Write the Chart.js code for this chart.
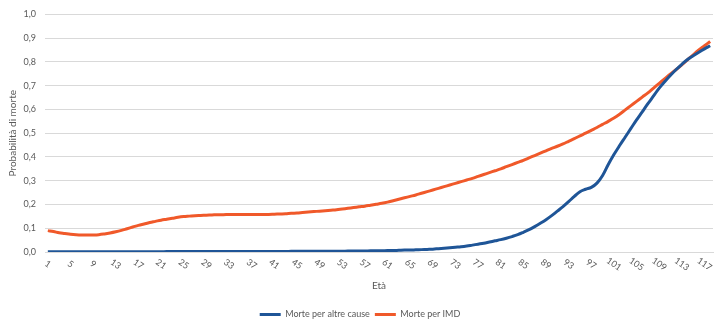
<!DOCTYPE html>
<html>
<head>
<meta charset="utf-8">
<script src="https://cdn.jsdelivr.net/npm/chart.js@4.4.1/dist/chart.umd.min.js"></script>
<style>
  html, body { margin: 0; padding: 0; background: #fff; }
  #wrap { width: 725px; height: 322px; }
</style>
</head>
<body>
<div id="wrap"><canvas id="chart"></canvas></div>
<script>
// Età 1..118
const ages = [];
for (let a = 1; a <= 118; a++) ages.push(String(a));

// Morte per altre cause (blue)
const altreCause = [
  0.001, 0.001, 0.001, 0.001, 0.001, 0.001, 0.001, 0.001, 0.001, 0.001,
  0.001, 0.001, 0.001, 0.001, 0.001, 0.001, 0.001, 0.001, 0.001, 0.001,
  0.001, 0.002, 0.002, 0.002, 0.002, 0.002, 0.002, 0.002, 0.002, 0.002,
  0.002, 0.002, 0.002, 0.002, 0.002, 0.002, 0.002, 0.002, 0.002, 0.002,
  0.002, 0.002, 0.002, 0.003, 0.003, 0.003, 0.003, 0.003, 0.003, 0.003,
  0.003, 0.003, 0.003, 0.004, 0.004, 0.004, 0.004, 0.005, 0.005, 0.005,
  0.006, 0.006, 0.007, 0.008, 0.008, 0.009, 0.010, 0.011, 0.012, 0.014,
  0.016, 0.018, 0.020, 0.022, 0.025, 0.029, 0.033, 0.037, 0.042, 0.047,
  0.052, 0.058, 0.065, 0.073, 0.083, 0.094, 0.107, 0.121, 0.136, 0.153,
  0.172, 0.191, 0.212, 0.234, 0.254, 0.264, 0.272, 0.290, 0.322, 0.368,
  0.410, 0.448, 0.484, 0.520, 0.556, 0.590, 0.624, 0.657, 0.690, 0.718,
  0.744, 0.768, 0.790, 0.810, 0.826, 0.841, 0.855, 0.868
];

// Morte per IMD (orange)
const imd = [
  0.090, 0.086, 0.081, 0.078, 0.075, 0.073, 0.072, 0.072, 0.072, 0.073,
  0.076, 0.080, 0.085, 0.091, 0.098, 0.105, 0.112, 0.118, 0.124, 0.129,
  0.134, 0.138, 0.142, 0.146, 0.149, 0.151, 0.153, 0.154, 0.155, 0.156,
  0.157, 0.157, 0.158, 0.158, 0.158, 0.158, 0.158, 0.158, 0.158, 0.158,
  0.159, 0.160, 0.161, 0.163, 0.164, 0.166, 0.168, 0.170, 0.172, 0.174,
  0.176, 0.178, 0.181, 0.184, 0.187, 0.190, 0.193, 0.197, 0.201, 0.205,
  0.210, 0.216, 0.222, 0.228, 0.234, 0.240, 0.247, 0.254, 0.261, 0.268,
  0.275, 0.282, 0.289, 0.296, 0.303, 0.310, 0.318, 0.326, 0.334, 0.342,
  0.350, 0.359, 0.368, 0.377, 0.386, 0.396, 0.406, 0.416, 0.426, 0.436,
  0.445, 0.455, 0.466, 0.477, 0.489, 0.500, 0.512, 0.524, 0.537, 0.550,
  0.564, 0.580, 0.598, 0.616, 0.634, 0.652, 0.670, 0.690, 0.710, 0.730,
  0.750, 0.768, 0.788, 0.809, 0.830, 0.850, 0.868, 0.886
];

// y tick labels 0,0 .. 1,0
const yTicks = ['0,0', '0,1', '0,2', '0,3', '0,4', '0,5', '0,6', '0,7', '0,8', '0,9', '1,0'];

const textColor = '#595959';
const gridColor = '#d9d9d9';
const fontFamily = 'Lato, "Liberation Sans", sans-serif';

// draws the slanted age labels every 4 years under the x axis
const slantedLabels = {
  id: 'slantedLabels',
  afterDraw(chart) {
    const xScale = chart.scales.x;
    const ctx = chart.ctx;
    ctx.save();
    ctx.font = '9px ' + fontFamily;
    ctx.fillStyle = textColor;
    ctx.textAlign = 'center';
    ctx.textBaseline = 'middle';
    ages.forEach((label, i) => {
      if (i % 4 !== 0) return;
      const x = xScale.getPixelForValue(i);
      ctx.save();
      ctx.translate(x, xScale.top + 12);
      ctx.rotate(35 * Math.PI / 180);
      ctx.fillText(label, 0, 0);
      ctx.restore();
    });
    ctx.restore();
  }
};

Chart.defaults.font.family = fontFamily;
Chart.defaults.color = textColor;

new Chart(document.getElementById('chart').getContext('2d'), {
  type: 'line',
  data: {
    labels: ages,
    datasets: [
      {
        label: 'Morte per altre cause',
        data: altreCause,
        borderColor: '#1f5597',
        backgroundColor: '#1f5597',
        borderWidth: 3,
        pointRadius: 0,
        tension: 0.4
      },
      {
        label: 'Morte per IMD',
        data: imd,
        borderColor: '#f0592a',
        backgroundColor: '#f0592a',
        borderWidth: 3,
        pointRadius: 0,
        tension: 0.4
      }
    ]
  },
  options: {
    responsive: true,
    maintainAspectRatio: false,
    animation: false,
    layout: { padding: { top: 6, right: 12, left: 7, bottom: -7 } },
    scales: {
      x: {
        offset: true,
        grid: { display: false, drawTicks: false },
        border: { color: gridColor, width: 1 },
        ticks: { display: false },
        title: {
          display: true,
          text: 'Età',
          font: { size: 10 },
          color: textColor,
          padding: { top: 0, bottom: 13 }
        },
        afterFit(scale) { scale.height = 53; }
      },
      y: {
        min: 0,
        max: 1,
        grid: { color: gridColor, drawTicks: false },
        border: { display: false },
        ticks: {
          stepSize: 0.1,
          padding: 9,
          font: { size: 9 },
          color: textColor,
          callback: (v, i) => yTicks[i]
        },
        title: {
          display: true,
          text: 'Probabilità di morte',
          font: { size: 10 },
          color: textColor,
          padding: 0
        },
        afterFit(scale) { scale.width = 38; }
      }
    },
    plugins: {
      legend: {
        position: 'bottom',
        labels: {
          usePointStyle: true,
          pointStyle: 'line',
          pointStyleWidth: 21,
          boxHeight: 3,
          font: { size: 9 },
          color: textColor,
          padding: 5
        }
      },
      tooltip: { enabled: false }
    }
  },
  plugins: [slantedLabels]
});
</script>
</body>
</html>
